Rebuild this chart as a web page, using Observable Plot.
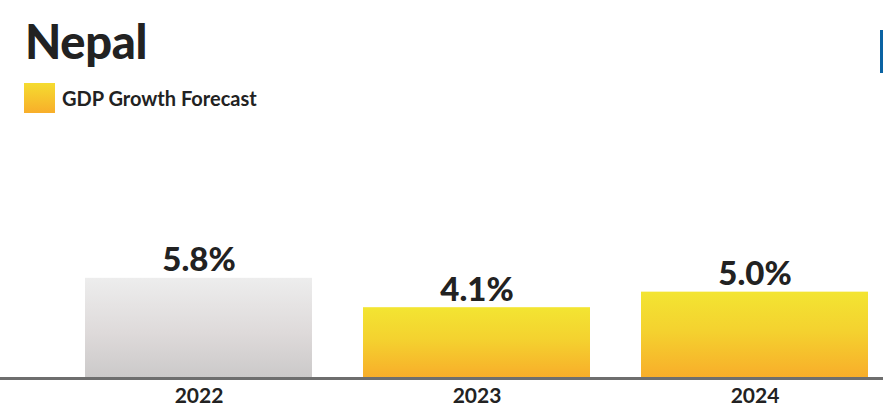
<!DOCTYPE html>
<html><head><meta charset="utf-8">
<script src="https://cdn.jsdelivr.net/npm/d3@7"></script>
<script src="https://cdn.jsdelivr.net/npm/@observablehq/plot@0.6"></script>
<style>
body{margin:0;background:#fff;font-family:Lato,"Open Sans",sans-serif;}
#wrap{position:relative;width:883px;height:416px;overflow:hidden;}
#head{position:relative;height:125px;}
#title{position:absolute;left:25px;top:18px;font-size:47px;font-weight:900;color:#222;line-height:1;letter-spacing:-0.3px;}
#sw{position:absolute;left:24px;top:83px;width:31px;height:30px;background:linear-gradient(#f5dc30,#f8ae2a);}
#leg{position:absolute;left:62px;top:88px;font-size:20px;font-weight:700;color:#222;line-height:1;}
#blue{position:absolute;left:880px;top:30px;width:3px;height:43px;background:#0a63a3;}
</style></head><body>
<div id="wrap">
<div id="head"><div id="title">Nepal</div><div id="sw"></div><div id="leg">GDP Growth Forecast</div><div id="blue"></div></div>
<div id="chart"></div>
</div>
<script>
const years = ["2022", "2023", "2024"];
const growth = [5.8, 4.1, 5.0];
const labels = ["5.8%", "4.1%", "5.0%"];
const kinds = ["actual", "forecast", "forecast"];
const data = years.map((y, i) => ({year: y, value: growth[i], label: labels[i], kind: kinds[i]}));

const plot = Plot.plot({
  width: 883, height: 291,
  marginLeft: 0, marginRight: 0, marginTop: 0, marginBottom: 38,
  x: {domain: years, insetLeft: 85, insetRight: 14, paddingInner: 0.183, paddingOuter: 0, label: null},
  y: {domain: [0, 14.65], axis: null},
  style: {fontFamily: "Lato, 'Open Sans', sans-serif", color: "#222", overflow: "visible"},
  marks: [
    Plot.barY(data.filter(d => d.kind === "actual"), {x: "year", y: "value", fill: "url(#gGray)"}),
    Plot.barY(data.filter(d => d.kind === "forecast"), {x: "year", y: "value", fill: "url(#gYel)"}),
    Plot.ruleY([0], {stroke: "#6e6e6e", strokeWidth: 3}),
    Plot.text(data, {x: "year", y: "value", text: "label", dy: -7, lineAnchor: "bottom", fontSize: 33, fontWeight: 900, fill: "#222"}),
    Plot.axisX({tickSize: 0, tickPadding: 10, fontSize: 21, fontWeight: 700, label: null})
  ]
});
const svg = d3.select(plot);
const defs = svg.insert("defs", ":first-child");
const gy = defs.append("linearGradient").attr("id", "gYel").attr("x1", 0).attr("y1", 0).attr("x2", 0).attr("y2", 1);
gy.append("stop").attr("offset", "0%").attr("stop-color", "#f3e532");
gy.append("stop").attr("offset", "45%").attr("stop-color", "#f4d22f");
gy.append("stop").attr("offset", "100%").attr("stop-color", "#f8ad2a");
const gg = defs.append("linearGradient").attr("id", "gGray").attr("x1", 0).attr("y1", 0).attr("x2", 0).attr("y2", 1);
gg.append("stop").attr("offset", "0%").attr("stop-color", "#ededed");
gg.append("stop").attr("offset", "55%").attr("stop-color", "#dedada");
gg.append("stop").attr("offset", "100%").attr("stop-color", "#cbc9c9");
svg.selectAll("[aria-label='x-axis tick label'] text").attr("fill", "#222");
document.getElementById("chart").appendChild(plot);
</script>
</body></html>
